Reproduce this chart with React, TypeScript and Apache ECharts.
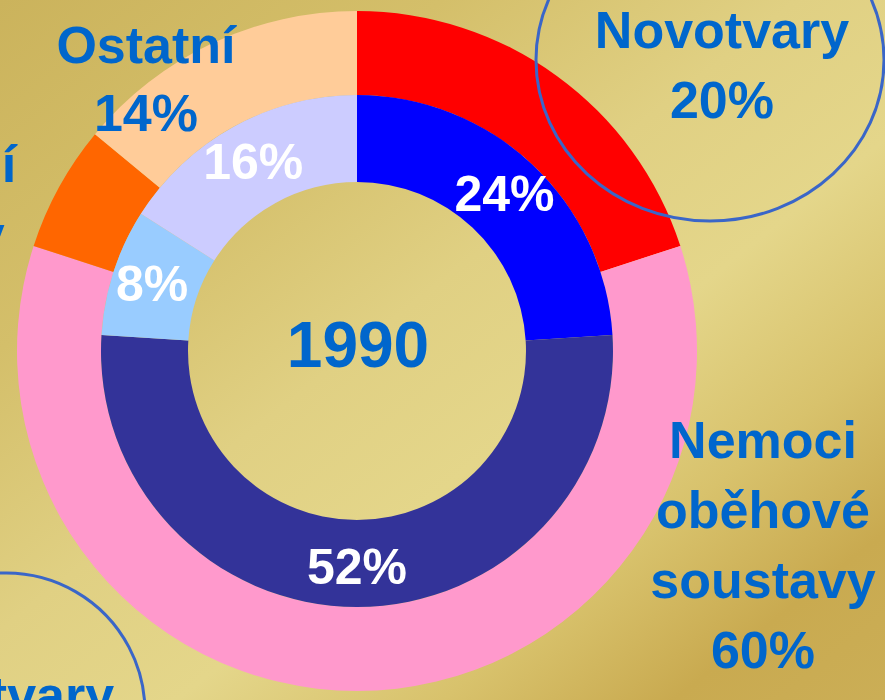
import React, { useEffect, useRef } from "react";
import * as echarts from "echarts";

const categories = ["Novotvary", "Nemoci oběhové soustavy", "Poranění a otravy", "Ostatní"];
const outerValues = [20, 60, 6, 14];
const innerValues = [24, 52, 8, 16];
const outerLabelLines = [["Novotvary"], ["Nemoci", "oběhové", "soustavy"], ["Poranění", "a otravy"], ["Ostatní"]];
const centerTitle = "1990";
const neighbourLabel = "Novotvary";

const outerColors = ["#ff0000", "#ff99cc", "#ff6600", "#ffcc99"];
const innerColors = ["#0000ff", "#333399", "#99ccff", "#ccccff"];
// first-line vertical centre and line step for each outer label
const labelPos = [
  { x: 722, y: 30, lh: 70 },
  { x: 763, y: 440, lh: 70 },
  { x: -95, y: 164, lh: 70 },
  { x: 146, y: 45, lh: 68 },
];

const FONT = "'Liberation Sans', Arial, sans-serif";
const BLUE = "#0066cc";

export default function App() {
  const ref = useRef<HTMLDivElement>(null);
  useEffect(() => {
    if (!ref.current) return;
    const chart = echarts.init(ref.current, null, { renderer: "svg" });
    const center = [357, 351];
    const textEl = (x: number, y: number, text: string, size: number) => ({
      type: "text",
      z: 101,
      style: {
        x,
        y,
        text,
        fill: BLUE,
        font: `bold ${size}px ${FONT}`,
        textAlign: "center",
        textVerticalAlign: "middle",
      },
    });
    const graphic: any[] = [
      {
        type: "ellipse",
        z: 100,
        shape: { cx: 710, cy: 60, rx: 174, ry: 161 },
        style: { fill: "none", stroke: "#3a66c8", lineWidth: 3 },
      },
      {
        type: "circle",
        z: 100,
        shape: { cx: 6, cy: 712, r: 139 },
        style: { fill: "none", stroke: "#3a66c8", lineWidth: 3 },
      },
      textEl(-13, 695, neighbourLabel, 52),
      textEl(358, 345, centerTitle, 64),
    ];
    categories.forEach((c, i) => {
      const p = labelPos[i];
      const lines = [...outerLabelLines[i], `${outerValues[i]}%`];
      lines.forEach((ln, k) => {
        graphic.push(textEl(p.x, p.y + k * p.lh, ln, 52));
      });
    });

    chart.setOption({
      animation: false,
      graphic,
      series: [
        {
          type: "pie",
          center,
          radius: [256, 340],
          startAngle: 90,
          clockwise: true,
          silent: true,
          avoidLabelOverlap: false,
          label: { show: false },
          labelLine: { show: false },
          emphasis: { disabled: true },
          itemStyle: { borderWidth: 0 },
          data: categories.map((name, i) => ({
            name,
            value: outerValues[i],
            itemStyle: { color: outerColors[i] },
          })),
        },
        {
          type: "pie",
          center,
          radius: [169, 256],
          startAngle: 90,
          clockwise: true,
          silent: true,
          avoidLabelOverlap: false,
          label: {
            show: true,
            position: "inside",
            formatter: "{c}%",
            color: "#ffffff",
            fontSize: 50,
            fontWeight: "bold",
            fontFamily: FONT,
          },
          labelLine: { show: false },
          emphasis: { disabled: true },
          itemStyle: { borderWidth: 0 },
          data: categories.map((name, i) => ({
            name,
            value: innerValues[i],
            itemStyle: { color: innerColors[i] },
          })),
        },
      ],
    });
    return () => chart.dispose();
  }, []);

  return (
    <div
      ref={ref}
      style={{
        position: "fixed",
        left: 0,
        top: 0,
        width: 885,
        height: 700,
        background:
          "linear-gradient(to bottom right, #cbb35c 0%, #d4bf6a 25%, #e0d083 45%, #e4d68a 60%, #d8c26c 75%, #c9aa50 88%, #cbae56 100%)",
      }}
    />
  );
}
